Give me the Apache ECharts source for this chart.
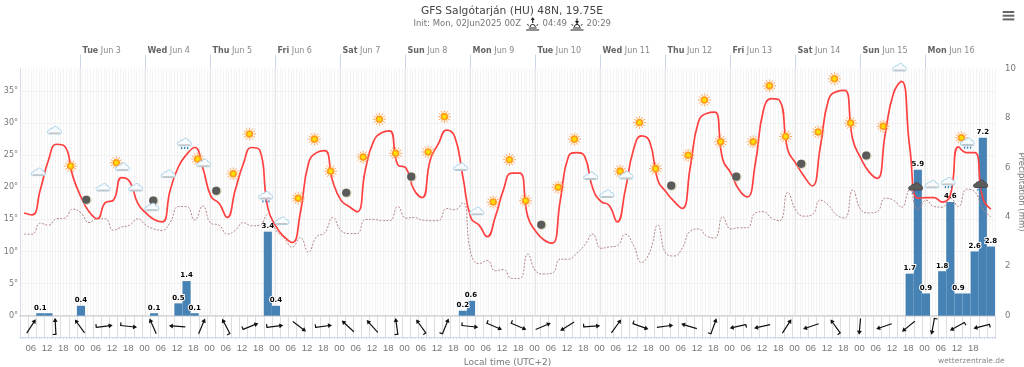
<!DOCTYPE html>
<html>
<head>
<meta charset="utf-8">
<style>html,body{margin:0;padding:0;background:#fff}#main{width:1024px;height:367px}</style>
<script src="https://cdn.jsdelivr.net/npm/echarts@6/dist/echarts.min.js"></script>
</head>
<body>
<div id="main"></div>
<script>
//Hours are counted from Jun 2 00:00 local time, model steps are 3 hourly
var startHour = 3.5;
var temperature = [
	16.0,15.7,19.6,24.2,26.7,26.4,21.7,18.5,16.2,15.1,
	17.6,18.0,21.5,20.9,17.5,16.0,15.0,14.6,19.6,23.2,
	25.1,26.2,23.0,18.6,17.5,15.3,19.6,23.7,26.2,25.8,
	16.8,13.9,12.3,11.4,16.0,23.7,25.4,25.7,20.9,18.0,
	17.0,16.2,22.7,27.1,28.5,28.8,23.5,23.0,19.6,18.4,
	24.3,26.8,28.9,27.9,21.7,15.2,14.1,12.3,15.4,19.6,
	22.2,22.2,15.4,13.1,11.8,11.3,18.0,24.8,25.4,24.8,
	19.8,17.8,17.2,14.6,19.6,25.8,28.0,27.1,21.1,19.3,
	17.8,16.7,23.2,30.2,31.5,31.7,24.3,22.2,19.6,18.5,
	23.7,32.0,33.8,33.5,25.8,23.7,21.7,20.2,26.3,33.6,
	34.9,35.1,27.4,24.5,22.4,21.4,28.4,34.6,36.5,26.3,
	18.3,18.4,18.4,17.7,18.8,26.3,25.4,25.4,18.3,16.6
];
var dewpoint = [
	12.7,12.7,14.4,14.1,15.1,15.2,16.6,16.0,14.5,15.1,
	15.1,13.3,13.8,14.1,15.1,14.1,13.5,13.3,14.6,17.0,
	17.0,14.9,17.1,14.4,14.1,12.7,13.3,14.5,14.0,14.1,
	15.8,13.3,12.1,10.7,12.2,9.9,12.3,12.9,15.3,13.3,
	12.8,12.8,15.0,15.0,14.8,14.8,17.0,15.2,15.3,14.9,
	14.8,14.8,16.7,16.5,17.6,9.7,8.1,8.6,7.0,7.2,
	5.8,5.8,9.6,6.9,6.5,6.6,8.8,8.8,9.7,11.0,
	12.7,10.5,10.7,10.9,12.7,11.0,8.3,9.9,14.1,9.7,
	9.3,10.5,13.2,13.5,12.4,12.1,15.4,13.5,13.7,13.7,
	16.0,16.2,15.2,14.8,19.2,16.4,15.5,15.7,18.0,17.2,
	15.7,15.2,19.6,16.5,16.0,16.2,18.3,18.0,16.9,19.6,
	16.5,18.0,17.0,16.9,18.3,17.0,19.7,19.3,16.7,15.4
];
var precip = [
	0,0,0.1,0.1,0,0,0,0.4,0,0,
	0,0,0,0,0,0,0.1,0,0,0.5,
	1.4,0.1,0,0,0,0,0,0,0,0,
	3.4,0.4,0,0,0,0,0,0,0,0,
	0,0,0,0,0,0,0,0,0,0,
	0,0,0,0,0.2,0.6,0,0,0,0,
	0,0,0,0,0,0,0,0,0,0,
	0,0,0,0,0,0,0,0,0,0,
	0,0,0,0,0,0,0,0,0,0,
	0,0,0,0,0,0,0,0,0,0,
	0,0,0,0,0,0,0,0,0,1.7,
	5.9,0.9,0,1.8,4.6,0.9,0.9,2.6,7.2,2.8
];
//these two bars have no label in the picture
var precipNoLabel = [3, 116];

//Wind arrows, one every 9 hours: direction on screen in degrees, 1 = hook at the tail
var windStartHour = 6.1;
var windDir = [33,-3,-36,83,96,-24,-86,23,-28,68,83,127,82,-47,-42,-8,-36,22,96,113,113,67,-122,86,36,110,82,-73,20,-103,-103,33,-109,-36,185,-109,-129,190,-119,-104];
var windHook = [0,1,0,1,1,0,0,0,1,1,1,0,1,0,0,1,1,1,1,1,1,0,0,1,0,1,0,0,1,1,0,0,0,1,0,0,0,1,1,1];

//Weather icons, one every 6 hours, placed at these heights on the temperature scale
var iconStartHour = 8.7;
var iconKind = [
	'cloud','cloud','sun','moon','cloud','suncloud','cloud','mooncloud','cloud','rain',
	'suncloud','moon','sun','sun','rain','cloud','sun','sun','sun','moon',
	'sun','sun','sun','moon','sun','sun','cloud','cloud','sun','sun',
	'sun','moon','sun','sun','cloud','cloud','suncloud','sun','sun','moon',
	'sun','sun','sun','moon','sun','sun','sun','moon','sun','sun',
	'sun','moon','sun','cloud','darkrain','cloud','rain','sunrain','darkrain'
];
var iconHeight = [
	22.4,28.9,23.3,18.0,20.0,23.5,20.0,17.1,22.1,26.9,
	24.1,19.4,22.1,28.3,18.6,14.8,18.3,27.5,22.5,19.1,
	24.7,30.6,25.3,21.6,25.5,31.0,23.2,16.3,17.7,24.3,
	17.9,14.1,20.0,27.5,21.8,19.0,22.2,30.1,22.9,20.2,
	25.0,33.6,27.1,21.6,27.1,35.8,27.9,23.6,28.6,36.9,
	30.0,24.9,29.5,38.7,20.0,20.5,20.8,27.1,20.4
];

var dayNames = ['Tue','Wed','Thu','Fri','Sat','Sun','Mon','Tue','Wed','Thu','Fri','Sat','Sun','Mon'];
var dayDates = ['Jun 3','Jun 4','Jun 5','Jun 6','Jun 7','Jun 8','Jun 9','Jun 10','Jun 11','Jun 12','Jun 13','Jun 14','Jun 15','Jun 16'];
var tempTicks = [0,5,10,15,20,25,30,35];

var dayHours = dayNames.map(function (d, i) { return 24 * (i + 1); });
var labelHours = [];
for (var h = 6; h <= 354; h += 6) labelHours.push(h);
var minorHours = [];
for (var m = 2; m <= 362; m += 1) minorHours.push(m);
var windLines = [];
for (var w = 2; w <= 362; w += 3) windLines.push(w);

function stepPairs(values) {
	return values.map(function (v, i) { return [startHour + 3 * i, v]; });
}

function cloudShape(x, y, fill, stroke) {
	return {
		type: 'path',
		shape: {
			pathData: 'M2 8C0 8 0 4.5 2.5 4.5C3 3 4.5 2.5 5.5 3C6.5 0.5 10 0.5 10.5 3.5C13 3 14.5 8 12 8Z',
			x: x - 7, y: y - 4, width: 14, height: 8
		},
		style: {fill: fill, stroke: stroke, lineWidth: 1}
	};
}

function cloud(x, y) {
	return [
		cloudShape(x, y, '#f7fbfe', '#a5cfe6'),
		{type: 'line', shape: {x1: x - 5.5, y1: y + 3, x2: x + 5.5, y2: y + 3}, style: {stroke: '#c4c4c4', lineWidth: 1.4}}
	];
}

function sun(x, y) {
	var parts = [];
	for (var i = 0; i < 12; i++) {
		var a = i * Math.PI / 6;
		parts.push({type: 'line', shape: {
			x1: x + 4.4 * Math.cos(a), y1: y + 4.4 * Math.sin(a),
			x2: x + 6.4 * Math.cos(a), y2: y + 6.4 * Math.sin(a)
		}, style: {stroke: '#ff9a4a', lineWidth: 0.9}});
	}
	parts.push({type: 'circle', shape: {cx: x, cy: y, r: 3.8}, style: {fill: '#ff9f1c'}});
	parts.push({type: 'circle', shape: {cx: x, cy: y, r: 2}, style: {fill: '#ffe000'}});
	return parts;
}

function moon(x, y) {
	return [
		{type: 'circle', shape: {cx: x, cy: y, r: 4.8}, style: {fill: '#dcd8bc'}},
		{type: 'circle', shape: {cx: x - 0.7, cy: y - 0.3, r: 4.1}, style: {fill: '#5a5a5a'}}
	];
}

function drops(x, y) {
	return [-3, 0, 3].map(function (d) {
		return {type: 'line', shape: {x1: x + d + 0.5, y1: y, x2: x + d, y2: y + 2}, style: {stroke: '#2b7db5', lineWidth: 1.2}};
	});
}

function iconParts(kind, x, y) {
	if (kind == 'sun') return sun(x, y);
	if (kind == 'moon') return moon(x, y);
	if (kind == 'cloud') return cloud(x, y);
	if (kind == 'suncloud') return sun(x - 3, y - 2).concat(cloud(x + 3, y + 2));
	if (kind == 'mooncloud') return moon(x + 2, y - 5).concat(cloud(x, y + 1));
	if (kind == 'rain') return drops(x, y + 4).concat(cloud(x, y - 1));
	if (kind == 'sunrain') return sun(x - 3, y - 4).concat(drops(x + 3, y + 5), cloud(x + 3, y));
	return drops(x, y + 4).concat([cloudShape(x, y - 1, '#5c5c5c', '#4a4a4a')]);
}

function renderIcon(params, api) {
	var p = api.coord([api.value(0), api.value(1)]);
	return {type: 'group', children: iconParts(iconKind[params.dataIndex], p[0], p[1])};
}

function renderWind(params, api) {
	var p = api.coord([api.value(0), 0.5]);
	var kids = [
		{type: 'line', shape: {x1: 0, y1: 8, x2: 0, y2: -6}, style: {stroke: '#111', lineWidth: 1.2}},
		{type: 'polygon', shape: {points: [[0, -8.5], [-2.4, -4.5], [2.4, -4.5]]}, style: {fill: '#111'}}
	];
	if (windHook[params.dataIndex]) {
		kids.push({type: 'line', shape: {x1: 0.5, y1: 8, x2: -3.2, y2: 8}, style: {stroke: '#111', lineWidth: 1.2}});
	}
	return {type: 'group', x: p[0], y: p[1], rotation: -api.value(2) * Math.PI / 180, children: kids};
}

//The 3 hour columns on a value axis, drawn as custom rects
function renderBar(params, api) {
	var v = api.value(1);
	if (!v) return null;
	var a = api.coord([api.value(0) - 1.5, v]);
	var b = api.coord([api.value(0) + 1.5, 0]);
	var kids = [{type: 'rect', shape: {x: a[0], y: a[1], width: b[0] - a[0], height: b[1] - a[1]}, style: {fill: '#4682b4'}}];
	if (precipNoLabel.indexOf(params.dataIndex) < 0) {
		kids.push({type: 'text', z2: 10, x: (a[0] + b[0]) / 2, y: a[1] - 2, style: {
			text: v.toFixed(1), fontSize: 7, fontWeight: 'bold', fontFamily: 'DejaVu Sans', fill: '#000',
			stroke: '#fff', lineWidth: 2, textAlign: 'center', textVerticalAlign: 'bottom'
		}});
	}
	return {type: 'group', children: kids};
}

//Day separators: a gridline in the plot and the tall tick above it
function renderDayLine(params, api) {
	var bottom = api.coord([api.value(0), 0]);
	var top = api.coord([api.value(0), 38.5]);
	var x = Math.round(top[0]) + 0.5;
	return {type: 'group', children: [
		{type: 'line', shape: {x1: x, y1: top[1], x2: x, y2: bottom[1]}, style: {stroke: '#e6e6e6', lineWidth: 1}},
		{type: 'line', shape: {x1: x, y1: top[1] - 14, x2: x, y2: top[1]}, style: {stroke: '#ccd6eb', lineWidth: 1}}
	]};
}

function sunMark(cx, up) {
	var kids = [
		{type: 'line', shape: {x1: cx - 6.5, y1: 30, x2: cx + 6.5, y2: 30}, style: {stroke: '#222', lineWidth: 1}},
		{type: 'line', shape: {x1: cx - 4, y1: 28, x2: cx + 4, y2: 28}, style: {stroke: '#222', lineWidth: 1}},
		{type: 'arc', shape: {cx: cx, cy: 27, r: 2.6, startAngle: Math.PI, endAngle: 2 * Math.PI}, style: {stroke: '#222', fill: null, lineWidth: 1}},
		{type: 'line', shape: {x1: cx - 5.5, y1: 24.5, x2: cx - 3.8, y2: 25.4}, style: {stroke: '#222', lineWidth: 1}},
		{type: 'line', shape: {x1: cx + 5.5, y1: 24.5, x2: cx + 3.8, y2: 25.4}, style: {stroke: '#222', lineWidth: 1}},
		{type: 'line', shape: {x1: cx, y1: 18.5, x2: cx, y2: 23}, style: {stroke: '#222', lineWidth: 1.2}}
	];
	kids.push({type: 'polygon', style: {fill: '#222'}, shape: {points: up ?
		[[cx, 17], [cx - 2, 20], [cx + 2, 20]] : [[cx, 24.5], [cx - 2, 21], [cx + 2, 21]]}});
	return {type: 'group', children: kids};
}

function grayText(text, x, y, size, color) {
	return {type: 'text', x: x, y: y, style: {text: text, fill: color || '#777', fontSize: size, fontFamily: 'DejaVu Sans', textVerticalAlign: 'middle'}};
}

var myChart = echarts.init(document.getElementById('main'));
var option = {
	animation: false,
	textStyle: {fontFamily: 'DejaVu Sans'},
	title: {
		text: 'GFS Salgótarján (HU) 48N, 19.75E',
		left: 'center', top: 6,
		padding: 0,
		textStyle: {fontSize: 10.7, fontWeight: 'normal', color: '#444'}
	},
	graphic: [
		grayText('Init: Mon, 02Jun2025 00Z', 413.5, 24, 8.5),
		grayText('04:49', 542.5, 24, 8.5),
		grayText('20:29', 586.5, 24, 8.5),
		sunMark(532.7, true),
		sunMark(577, false),
		{type: 'rect', shape: {x: 1002.7, y: 11, width: 11.6, height: 2}, style: {fill: '#666'}},
		{type: 'rect', shape: {x: 1002.7, y: 14.7, width: 11.6, height: 2}, style: {fill: '#666'}},
		{type: 'rect', shape: {x: 1002.7, y: 18.4, width: 11.6, height: 2}, style: {fill: '#666'}},
		grayText('wetterzentrale.de', 938, 361, 7.5, '#888'),
		{type: 'text', x: 1021, y: 192, rotation: -Math.PI / 2, style: {
			text: 'Precipitation (mm)', fill: '#777', fontSize: 8.5, fontFamily: 'DejaVu Sans', textAlign: 'center', textVerticalAlign: 'middle'
		}}
	],
	grid: [
		{left: 20, right: 29, top: 68.5, height: 247.2, outerBoundsMode: 'none'},
		{left: 20, right: 29, top: 315.7, height: 21.3, outerBoundsMode: 'none'}
	],
	xAxis: [
		{
			type: 'value', gridIndex: 0, position: 'top', min: 2, max: 362,
			axisLine: {show: true, lineStyle: {color: '#ccd6eb'}},
			axisTick: {show: false},
			axisLabel: {
				show: true, customValues: dayHours, align: 'left', margin: 14, padding: [0, 0, 0, 3],
				color: '#888', fontSize: 8,
				formatter: function (v) {
					var i = v / 24 - 1;
					return '{b|' + dayNames[i] + '} ' + dayDates[i];
				},
				rich: {b: {fontWeight: 'bold', color: '#666', fontSize: 8}}
			},
			splitLine: {show: false}
		},
		{
			type: 'value', gridIndex: 0, position: 'top', min: 2, max: 362, interval: 1,
			axisLine: {show: false}, axisTick: {show: false}, axisLabel: {show: false},
			splitLine: {show: true, lineStyle: {color: '#f4f4f4'}}
		},
		{
			type: 'value', gridIndex: 1, position: 'bottom', min: 2, max: 362,
			name: 'Local time (UTC+2)', nameLocation: 'middle', nameGap: 21,
			nameTextStyle: {color: '#777', fontSize: 9},
			axisLine: {show: true, lineStyle: {color: '#ccd6eb'}},
			axisTick: {show: true, length: 2, customValues: minorHours, lineStyle: {color: '#ccd6eb'}},
			axisLabel: {
				show: true, customValues: labelHours, margin: 6, color: '#777', fontSize: 9.5, fontFamily: 'Liberation Sans',
				formatter: function (v) {
					var hour = v % 24;
					return (hour < 10 ? '0' : '') + hour;
				}
			},
			splitLine: {show: false}
		},
		{
			type: 'value', gridIndex: 1, position: 'top', min: 2, max: 362,
			axisLine: {show: true, lineStyle: {color: '#d8d8d8', width: 1.5}},
			axisTick: {show: false, customValues: windLines},
			axisLabel: {show: false},
			splitLine: {show: true, lineStyle: {color: '#dedede'}}
		}
	],
	yAxis: [
		{
			type: 'value', gridIndex: 0, min: 0, max: 38.5,
			axisLine: {show: true, lineStyle: {color: '#d8dce6'}},
			axisTick: {show: false, customValues: tempTicks},
			axisLabel: {show: true, customValues: tempTicks, margin: 2, color: '#777', fontSize: 8, formatter: '{value}°'},
			splitLine: {show: true, lineStyle: {color: '#efefef'}}
		},
		{
			type: 'value', gridIndex: 0, position: 'right', min: 0, max: 10, interval: 2,
			axisLine: {show: false}, axisTick: {show: false},
			axisLabel: {show: true, margin: 10, color: '#777', fontSize: 8.5},
			splitLine: {show: false}
		},
		{
			type: 'value', gridIndex: 1, min: 0, max: 1,
			axisLine: {show: true, lineStyle: {color: '#d8dce6'}}, axisTick: {show: false}, axisLabel: {show: false}, splitLine: {show: false}
		}
	],
	series: [
		{
			name: 'Days', type: 'custom', xAxisIndex: 0, yAxisIndex: 0, z: 2,
			data: dayHours.map(function (d) { return [d, 0]; }), encode: {x: 0, y: 1},
			renderItem: renderDayLine
		},
		{
			name: 'Precipitation', type: 'custom', xAxisIndex: 0, yAxisIndex: 1, z: 3,
			data: stepPairs(precip), encode: {x: 0, y: 1},
			renderItem: renderBar
		},
		{
			name: 'Dewpoint', type: 'line', xAxisIndex: 0, yAxisIndex: 0, smooth: 0.5, z: 4,
			data: stepPairs(dewpoint), showSymbol: false,
			lineStyle: {color: '#b58686', width: 1, type: [2, 1.5]}
		},
		{
			name: 'Temperature', type: 'line', xAxisIndex: 0, yAxisIndex: 0, smooth: 0.5, z: 5,
			data: stepPairs(temperature), showSymbol: false,
			lineStyle: {color: '#ff4040', width: 1.7}
		},
		{
			name: 'Weather', type: 'custom', xAxisIndex: 0, yAxisIndex: 0, z: 6,
			data: iconHeight.map(function (v, i) { return [iconStartHour + 6 * i, v]; }),
			encode: {x: 0, y: 1},
			renderItem: renderIcon
		},
		{
			name: 'Wind', type: 'custom', xAxisIndex: 2, yAxisIndex: 2, z: 6,
			data: windDir.map(function (d, i) { return [windStartHour + 9 * i, 0.5, d]; }),
			encode: {x: 0, y: 1},
			renderItem: renderWind
		}
	]
};
myChart.setOption(option);
</script>
</body>
</html>
